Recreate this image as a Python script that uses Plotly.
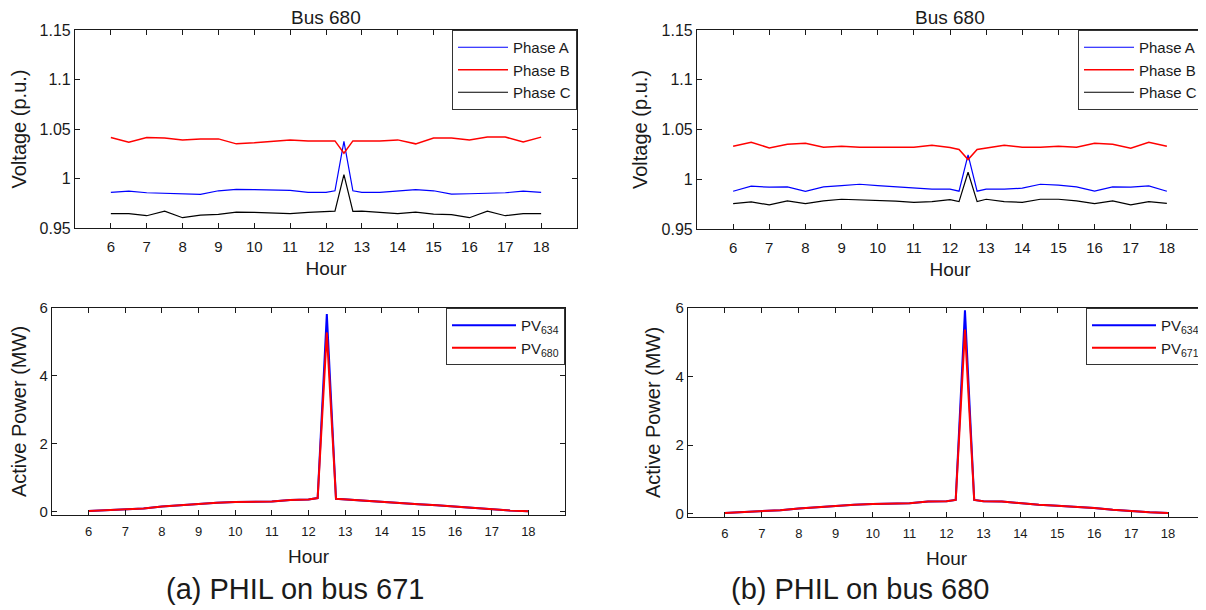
import plotly.graph_objects as go

# the page body has an 8px default margin, so the figure is drawn offset by it
OFF = 8
W, H = 1206 - OFF, 610 - OFF

hours = [6, 6.5, 7, 7.5, 8, 8.5, 9, 9.5, 10, 10.5, 11, 11.5, 12, 12.25, 12.5,
         12.75, 13, 13.5, 14, 14.5, 15, 15.5, 16, 16.5, 17, 17.5, 18]

# (a) PHIL on bus 671 - voltage at bus 680
va_a = [0.986, 0.9873, 0.9856, 0.9853, 0.985, 0.984, 0.9876, 0.989, 0.9887, 0.9883,
        0.988, 0.986, 0.986, 0.9876, 1.0374, 0.9876, 0.986, 0.986, 0.9876, 0.9887,
        0.9876, 0.9843, 0.9846, 0.985, 0.9856, 0.9873, 0.986]
vb_a = [1.0414, 1.0367, 1.0414, 1.041, 1.039, 1.040, 1.040, 1.035, 1.036, 1.0377,
        1.039, 1.0378, 1.038, 1.038, 1.0256, 1.038, 1.038, 1.038, 1.039, 1.035,
        1.0408, 1.0408, 1.039, 1.0418, 1.0418, 1.037, 1.0418]
vc_a = [0.9645, 0.9645, 0.9624, 0.9671, 0.9604, 0.963, 0.9638, 0.9661, 0.9658, 0.965,
        0.9645, 0.9658, 0.967, 0.967, 1.004, 0.9668, 0.967, 0.9658, 0.9645, 0.966,
        0.964, 0.9635, 0.9604, 0.967, 0.9624, 0.9645, 0.9645]

# (b) PHIL on bus 680 - voltage at bus 680
va_b = [0.9879, 0.993, 0.992, 0.9923, 0.9879, 0.9923, 0.9936, 0.995, 0.9936, 0.9923,
        0.991, 0.990, 0.990, 0.988, 1.0245, 0.988, 0.990, 0.990, 0.991, 0.995,
        0.994, 0.9923, 0.988, 0.9923, 0.992, 0.9933, 0.9879]
vb_b = [1.0332, 1.0372, 1.0315, 1.0352, 1.0362, 1.0322, 1.0332, 1.0322, 1.0322, 1.0322,
        1.0322, 1.0342, 1.032, 1.030, 1.0198, 1.030, 1.0315, 1.0342, 1.0322, 1.0322,
        1.0332, 1.0322, 1.0362, 1.0352, 1.0312, 1.0372, 1.0332]
vc_b = [0.9755, 0.9772, 0.9742, 0.9782, 0.9755, 0.9782, 0.9799, 0.9795, 0.9785, 0.978,
        0.9768, 0.9775, 0.9795, 0.9775, 1.007, 0.9775, 0.9799, 0.9775, 0.9768, 0.9799,
        0.9799, 0.9782, 0.9755, 0.9782, 0.9742, 0.9775, 0.9758]

# active power (MW)
pv634_a = [0.02, 0.04, 0.05, 0.09, 0.15, 0.19, 0.23, 0.26, 0.28, 0.29, 0.30, 0.34, 0.36,
           0.40, 5.82, 0.38, 0.36, 0.33, 0.29, 0.26, 0.22, 0.19, 0.15, 0.09, 0.05, 0.03, 0.01]
pv680_a = [0.02, 0.04, 0.05, 0.09, 0.15, 0.19, 0.23, 0.26, 0.28, 0.29, 0.30, 0.34, 0.36,
           0.40, 5.28, 0.38, 0.36, 0.33, 0.29, 0.26, 0.22, 0.19, 0.15, 0.09, 0.05, 0.03, 0.01]
pv634_b = [0.02, 0.04, 0.06, 0.10, 0.15, 0.19, 0.23, 0.26, 0.28, 0.29, 0.30, 0.35, 0.36,
           0.40, 5.93, 0.40, 0.36, 0.35, 0.30, 0.26, 0.23, 0.20, 0.16, 0.11, 0.07, 0.04, 0.02]
pv671_b = [0.02, 0.04, 0.06, 0.10, 0.15, 0.19, 0.23, 0.26, 0.28, 0.29, 0.30, 0.35, 0.36,
           0.40, 5.37, 0.40, 0.36, 0.35, 0.30, 0.26, 0.23, 0.20, 0.16, 0.11, 0.07, 0.04, 0.02]

hour_ticks = list(range(6, 19))
volt_ticks = [0.95, 1, 1.05, 1.1, 1.15]
volt_labels = ["0.95", "1", "1.05", "1.1", "1.15"]
power_ticks = [0, 2, 4, 6]

FONT = "Arial, Liberation Sans, sans-serif"

# panel boxes in page pixels: (left, right, top, bottom)
boxes = {
    "1": (75, 577, 30, 228),
    "2": (697, 1203, 30, 229),
    "3": (52, 565, 308, 515),
    "4": (688, 1205, 308, 517),
}


def px_x(v):
    return (v - OFF) / W


def px_y(v):
    return 1 - (v - OFF) / H


fig = go.Figure()

volt_sets = [("1", va_a, vb_a, vc_a, "legend"), ("2", va_b, vb_b, vc_b, "legend2")]
for ax, va, vb, vc, leg in volt_sets:
    suffix = "" if ax == "1" else ax
    for name, vals, color, width in [("Phase A", va, "#0000ff", 1.2),
                                     ("Phase B", vb, "#ff0000", 1.5),
                                     ("Phase C", vc, "#000000", 1.2)]:
        fig.add_trace(go.Scatter(x=hours, y=vals, mode="lines", name=name,
                                 line=dict(color=color, width=width),
                                 xaxis="x" + suffix, yaxis="y" + suffix, legend=leg))

power_sets = [("3", pv634_a, pv680_a, "PV<sub>680</sub>", "legend3"),
              ("4", pv634_b, pv671_b, "PV<sub>671</sub>", "legend4")]
for ax, blue, red, red_name, leg in power_sets:
    fig.add_trace(go.Scatter(x=hours, y=blue, mode="lines", name="PV<sub>634</sub>",
                             line=dict(color="#0000ff", width=2),
                             xaxis="x" + ax, yaxis="y" + ax, legend=leg))
    fig.add_trace(go.Scatter(x=hours, y=red, mode="lines", name=red_name,
                             line=dict(color="#ff0000", width=2),
                             xaxis="x" + ax, yaxis="y" + ax, legend=leg))

layout = dict(
    width=W, height=H,
    margin=dict(l=0, r=0, t=0, b=0, autoexpand=False),
    paper_bgcolor="white", plot_bgcolor="white",
    font=dict(family=FONT, color="#1a1a1a"),
)

common = dict(showline=True, linecolor="#1a1a1a", linewidth=1.2, mirror="ticks",
              ticks="inside", ticklen=5, tickcolor="#1a1a1a", showgrid=False,
              zeroline=False, automargin=False)

for ax, (l, r, t, b) in boxes.items():
    suffix = "" if ax == "1" else ax
    top = ax in ("1", "2")
    layout["xaxis" + suffix] = dict(
        common, domain=[px_x(l), px_x(r)], range=[5, 19], tickvals=hour_ticks,
        anchor="y" + suffix,
        ticklabelstandoff=5 if top else 4,
        tickfont=dict(size=15 if top else 13),
        title=dict(text="Hour", font=dict(size=19), standoff=7 if top else 11),
    )
    if top:
        ydict = dict(range=[0.95, 1.15], tickvals=volt_ticks, ticktext=volt_labels,
                     tickfont=dict(size=16),
                     title=dict(text="Voltage (p.u.)", font=dict(size=20), standoff=8))
    else:
        ydict = dict(range=[-0.1, 6], tickvals=power_ticks,
                     tickfont=dict(size=15),
                     title=dict(text="Active Power (MW)", font=dict(size=20), standoff=9))
    layout["yaxis" + suffix] = dict(common, domain=[px_y(b), px_y(t)],
                                    anchor="x" + suffix, **ydict)

legend_style = dict(bgcolor="white", bordercolor="#333333", borderwidth=1,
                    xanchor="right", yanchor="top", tracegroupgap=0,
                    font=dict(size=15, family=FONT))
for leg, ax in [("legend", "1"), ("legend2", "2"), ("legend3", "3"), ("legend4", "4")]:
    l, r, t, b = boxes[ax]
    layout[leg] = dict(legend_style, x=px_x(r), y=px_y(t),
                       itemwidth=50 if ax in ("1", "2") else 64)

fig.update_layout(**layout)

for ax, (l, r, t, b) in [("1", boxes["1"]), ("2", boxes["2"])]:
    fig.add_annotation(text="Bus 680", x=px_x((l + r) / 2), y=px_y(18), xref="paper",
                       yref="paper", xanchor="center", yanchor="middle", showarrow=False,
                       font=dict(size=19, family=FONT))

for text, cx in [("(a) PHIL on bus 671", 295), ("(b) PHIL on bus 680", 860)]:
    fig.add_annotation(text=text, x=px_x(cx), y=px_y(589), xref="paper", yref="paper",
                       xanchor="center", yanchor="middle", showarrow=False,
                       font=dict(size=29, family=FONT))

fig.write_html("out.html")
